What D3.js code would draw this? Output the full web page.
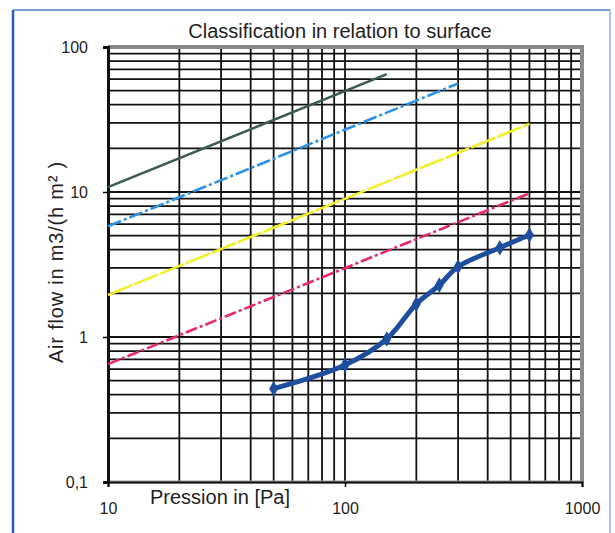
<!DOCTYPE html>
<html>
<head>
<meta charset="utf-8">
<script src="https://cdn.jsdelivr.net/npm/d3@7"></script>
<style>
  html, body { margin: 0; padding: 0; background: #fff; }
  svg { display: block; font-family: "Liberation Sans", Arial, sans-serif; }
</style>
</head>
<body>
<svg id="chart" width="615" height="533"></svg>
<script>
// class limit lines, endpoints [pressure Pa, flow]
var class1 = [[10, 10.8], [150, 65]];
var class2 = [[10, 5.8], [300, 56]];
var class3 = [[10, 1.95], [600, 29.5]];
var class4 = [[10, 0.65], [600, 9.8]];
// measured series
var pressure = [50, 100, 150, 200, 250, 300, 450, 600];
var airflow = [0.44, 0.64, 0.97, 1.69, 2.28, 3.05, 4.13, 5.05];
// tick labels
var xTicks = [10, 100, 1000];
var yTicks = [0.1, 1, 10, 100];
var yTickText = ["0,1", "1", "10", "100"];

var margin = { top: 47, right: 33, bottom: 51, left: 108 };
var width = 615 - margin.left - margin.right;
var height = 533 - margin.top - margin.bottom;

var svg = d3.select("#chart");

// outer blue frame
svg.append("line").attr("x1", 13).attr("y1", 10).attr("x2", 13).attr("y2", 533)
  .attr("stroke", "#2a5cc0").attr("stroke-width", 2.5);
svg.append("line").attr("x1", 13).attr("y1", 10).attr("x2", 610).attr("y2", 10)
  .attr("stroke", "#4a78c8").attr("stroke-width", 1.5);
svg.append("line").attr("x1", 610).attr("y1", 10).attr("x2", 610).attr("y2", 533)
  .attr("stroke", "#8fb0e6").attr("stroke-width", 1.5);

var x = d3.scaleLog().domain([10, 1000]).range([0, width]);
var y = d3.scaleLog().domain([0.1, 100]).range([height, 0]);

var g = svg.append("g")
  .attr("transform", "translate(" + margin.left + "," + margin.top + ")");

// title
svg.append("text")
  .attr("x", 340).attr("y", 38)
  .attr("text-anchor", "middle")
  .attr("font-size", 20)
  .attr("fill", "#222")
  .text("Classification in relation to surface");

// grid lines (every 1..9 in each decade)
var xGrid = x.ticks(20).filter(function(d) { return d > 10 && d < 1000; });
var yGrid = y.ticks(30).filter(function(d) { return d > 0.1 && d < 100; });

g.selectAll(".vgrid")
  .data(xGrid)
  .enter().append("line")
  .attr("class", "vgrid")
  .attr("x1", function(d) { return x(d); })
  .attr("x2", function(d) { return x(d); })
  .attr("y1", 0).attr("y2", height)
  .attr("stroke", "#111").attr("stroke-width", 1.8);

g.selectAll(".hgrid")
  .data(yGrid)
  .enter().append("line")
  .attr("class", "hgrid")
  .attr("x1", 0).attr("x2", width)
  .attr("y1", function(d) { return y(d); })
  .attr("y2", function(d) { return y(d); })
  .attr("stroke", "#111").attr("stroke-width", 1.8);

// gray frame top / right
g.append("path")
  .attr("d", "M0,0H" + width + "V" + height)
  .attr("fill", "none").attr("stroke", "#8a8a8a").attr("stroke-width", 4);
g.append("line")
  .attr("x1", 0).attr("x2", width).attr("y1", height).attr("y2", height)
  .attr("stroke", "#999").attr("stroke-width", 3);

// axes
var yAxis = g.append("g")
  .call(d3.axisLeft(y).tickValues(yTicks).tickSize(5)
    .tickFormat(function(d, i) { return yTickText[i]; }));
yAxis.select(".domain").attr("stroke-width", 3).attr("stroke", "#111");
yAxis.selectAll(".tick line").attr("stroke-width", 1.5);
yAxis.selectAll("text").attr("font-size", 16).attr("fill", "#222").attr("x", -20);

var xAxis = g.append("g")
  .attr("transform", "translate(0," + height + ")")
  .call(d3.axisBottom(x).tickValues(xTicks).tickSize(5).tickFormat(d3.format("d")));
xAxis.select(".domain").attr("stroke-width", 2).attr("stroke", "#111");
xAxis.selectAll(".tick line").attr("stroke-width", 1.5);
xAxis.selectAll("text").attr("font-size", 16).attr("fill", "#222").attr("y", 21);

// axis titles
svg.append("text")
  .attr("x", 220).attr("y", 504)
  .attr("text-anchor", "middle")
  .attr("font-size", 20)
  .attr("fill", "#222")
  .text("Pression in [Pa]");

svg.append("text")
  .attr("transform", "translate(63,262) rotate(-90)")
  .attr("text-anchor", "middle")
  .attr("font-size", 20)
  .attr("letter-spacing", 0.8)
  .attr("fill", "#222")
  .text("Air flow in m3/(h m\u00b2 )");

// class lines
var line = d3.line()
  .x(function(d) { return x(d[0]); })
  .y(function(d) { return y(d[1]); });

var classes = [
  { data: class1, color: "#3c5c50", dash: null },
  { data: class2, color: "#2a92e6", dash: "14,3,3,3" },
  { data: class3, color: "#f2ee2a", dash: "26,2" },
  { data: class4, color: "#e8286e", dash: "12,3,3,3" }
];
classes.forEach(function(c) {
  g.append("path")
    .attr("d", line(c.data))
    .attr("fill", "none")
    .attr("stroke", c.color)
    .attr("stroke-width", 2.6)
    .attr("stroke-dasharray", c.dash);
});

// measured curve
var measured = pressure.map(function(p, i) { return [p, airflow[i]]; });
var smooth = d3.line()
  .x(function(d) { return x(d[0]); })
  .y(function(d) { return y(d[1]); })
  .curve(d3.curveCatmullRom);

g.append("path")
  .attr("d", smooth(measured))
  .attr("fill", "none")
  .attr("stroke", "#1f4e9e")
  .attr("stroke-width", 5)
  .attr("stroke-linecap", "round");

g.selectAll(".pt")
  .data(measured)
  .enter().append("path")
  .attr("class", "pt")
  .attr("transform", function(d) { return "translate(" + x(d[0]) + "," + y(d[1]) + ")"; })
  .attr("d", d3.symbol().type(d3.symbolDiamond).size(70))
  .attr("fill", "#1f4e9e");
</script>
</body>
</html>
